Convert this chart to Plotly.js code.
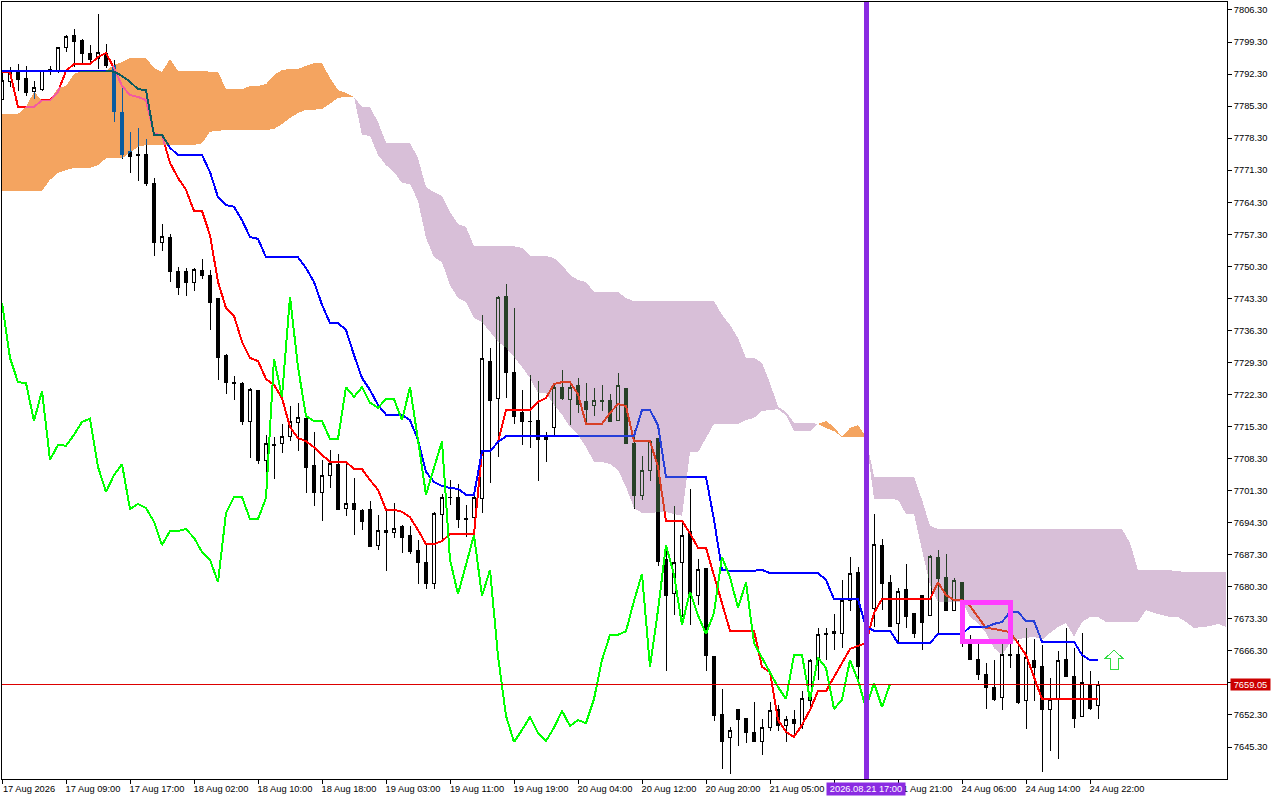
<!DOCTYPE html>
<html>
<head>
<meta charset="utf-8">
<script src="https://cdn.plot.ly/plotly-3.0.1.min.js"></script>
<style>
html, body { margin: 0; padding: 0; background: #fff; }
/* the terminal paints its cloud in xor mode, difference with the inverted colour gives the same */
.js-fill { mix-blend-mode: difference; }
.scatterlayer path, .shapelayer path, .boxlayer path { shape-rendering: crispEdges; }
</style>
</head>
<body>
<div id="chart" style="width:1280px;height:800px"></div>
<script>
const opens = [
	7786.8,7790.6,7793.0,7791.4,7788.4,7789.0,7793.2,7792.8,7798.0,7800.8,
	7799.7,7796.9,7795.6,7796.9,7794.1,7784.0,7775.3,7774.8,7774.8,7768.3,
	7755.6,7756.7,7749.1,7749.1,7746.7,7749.3,7748.4,7743.2,7730.9,7725.0,
	7724.8,7716.3,7723.1,7707.8,7711.3,7711.7,7713.2,7716.1,7717.0,7706.7,
	7700.8,7704.7,7707.1,7697.5,7698.4,7696.9,7697.1,7689.4,7692.1,7692.1,
	7693.4,7691.4,7688.3,7685.7,7681.1,7696.0,7699.9,7699.9,7695.3,7695.5,
	7699.5,7729.6,7721.5,7743.8,7727.2,7718.3,7716.5,7716.7,7713.0,7715.0,
	7723.9,7721.3,7724.2,7720.7,7719.8,7721.1,7720.9,7716.7,7723.7,7711.5,
	7700.2,7705.6,7712.6,7686.2,7678.9,7685.5,7692.3,7678.3,7684.2,7665.0,
	7652.5,7647.3,7653.6,7651.6,7648.4,7646.6,7649.5,7653.4,7650.1,7651.2,
	7650.3,7655.4,7664.3,7670.2,7670.0,7670.0,7677.2,7683.5,7676.5,7675.5,
	7689.4,7681.3,7672.2,7679.6,7674.4,7678.5,7674.1,7686.8,7682.4,7675.2,
	7681.3,7668.0,7664.5,7661.2,7658.2,7656.2,7665.6,7665.4,7655.4,7664.1,
	7662.8,7653.6,7655.6,7664.5,7660.8,7651.9,7658.8,7654.3
];
const highs = [
	7792.8,7793.8,7794.5,7794.1,7790.8,7793.0,7794.1,7798.0,7800.8,7802.1,
	7800.0,7798.6,7805.4,7798.9,7795.4,7789.5,7779.6,7780.5,7778.1,7769.6,
	7759.5,7757.4,7750.2,7750.0,7750.0,7751.9,7749.5,7743.4,7731.1,7726.3,
	7725.0,7723.7,7723.3,7713.5,7713.0,7715.9,7719.8,7720.5,7717.4,7714.1,
	7708.0,7710.2,7709.3,7707.6,7704.1,7697.3,7699.1,7696.0,7697.1,7698.6,
	7693.8,7693.6,7690.5,7689.4,7696.7,7700.6,7703.6,7702.8,7698.2,7700.4,
	7739.7,7732.5,7743.8,7746.4,7741.2,7723.3,7726.6,7725.2,7714.1,7724.8,
	7727.7,7725.0,7725.9,7724.8,7723.7,7724.4,7722.4,7727.0,7723.7,7714.6,
	7708.9,7712.4,7712.6,7689.4,7698.0,7694.2,7701.7,7686.4,7684.2,7665.2,
	7658.0,7649.7,7653.6,7651.6,7655.1,7651.4,7655.1,7654.5,7652.1,7653.4,
	7657.5,7664.5,7671.3,7671.3,7674.4,7681.8,7686.8,7684.6,7677.4,7696.2,
	7690.7,7682.9,7680.0,7685.3,7674.4,7678.5,7687.2,7688.3,7687.5,7682.2,
	7681.3,7669.8,7668.7,7663.6,7664.3,7668.0,7668.0,7668.7,7671.3,7668.9,
	7667.6,7660.4,7666.3,7671.3,7666.9,7670.2,7661.9,7659.7
];
const lows = [
	7786.6,7789.5,7788.6,7787.5,7786.8,7788.6,7792.1,7792.5,7797.1,7793.8,
	7794.7,7794.7,7793.4,7793.6,7781.8,7773.8,7770.7,7769.0,7767.9,7752.6,
	7753.7,7746.9,7744.0,7743.8,7744.9,7747.5,7736.4,7725.5,7722.4,7721.1,
	7715.6,7708.4,7707.1,7703.4,7703.9,7709.5,7712.1,7710.0,7700.8,7698.0,
	7694.7,7701.9,7697.1,7695.8,7691.6,7692.7,7689.0,7688.3,7683.8,7691.0,
	7687.7,7687.5,7680.9,7679.8,7679.8,7690.5,7698.2,7693.1,7691.2,7694.7,
	7696.4,7703.0,7708.7,7721.5,7715.9,7711.3,7710.6,7703.4,7707.6,7713.2,
	7721.1,7715.6,7718.3,7716.1,7717.6,7718.7,7716.5,7716.5,7711.5,7697.3,
	7699.3,7703.4,7684.9,7661.9,7674.1,7673.7,7672.0,7676.3,7661.9,7651.0,
	7640.5,7639.4,7645.5,7646.2,7646.4,7643.6,7648.8,7648.8,7646.4,7647.9,
	7649.2,7654.0,7659.9,7664.3,7666.5,7666.9,7675.0,7659.1,7673.0,7671.5,
	7675.2,7671.5,7668.0,7671.3,7669.1,7666.5,7674.1,7670.2,7675.0,7675.2,
	7667.1,7664.3,7659.9,7653.6,7655.4,7653.4,7662.6,7654.7,7649.2,7655.4,
	7639.9,7644.4,7642.7,7660.8,7649.5,7651.9,7653.4,7651.4
];
const closes = [
	7791.0,7793.0,7791.2,7788.2,7789.3,7793.0,7793.0,7798.0,7800.6,7799.5,
	7796.7,7795.4,7797.1,7794.1,7784.2,7774.8,7774.4,7774.6,7768.5,7755.6,
	7756.9,7749.1,7745.6,7746.7,7749.5,7748.2,7742.5,7730.3,7725.0,7724.8,
	7716.3,7723.3,7707.8,7711.5,7711.1,7713.2,7716.3,7717.2,7706.3,7700.8,
	7704.7,7707.3,7697.1,7698.6,7697.1,7694.5,7689.2,7692.5,7692.7,7693.1,
	7691.0,7688.1,7685.7,7681.1,7696.4,7699.9,7699.7,7694.9,7695.1,7699.7,
	7730.1,7721.1,7743.6,7727.2,7717.6,7716.3,7716.3,7712.4,7712.4,7723.9,
	7721.5,7723.9,7720.2,7719.1,7721.1,7720.7,7716.5,7724.2,7711.7,7700.2,
	7705.6,7712.1,7685.9,7678.5,7685.7,7691.6,7678.9,7684.0,7665.2,7652.1,
	7646.4,7649.0,7651.4,7648.4,7646.6,7649.5,7653.2,7649.9,7651.2,7650.5,
	7655.8,7664.3,7669.8,7669.8,7670.6,7677.2,7683.3,7662.8,7675.2,7689.6,
	7681.1,7671.7,7679.2,7673.7,7670.0,7672.4,7687.0,7682.0,7675.2,7681.6,
	7668.0,7664.5,7661.2,7658.2,7655.6,7665.4,7665.2,7655.1,7664.8,7662.6,
	7653.4,7655.6,7664.3,7660.8,7651.6,7659.3,7653.8,7659.05
];
const tenkan = [
	7792.8,7792.7,7785.1,7785.1,7785.1,7786.6,7786.6,7788.4,7793.0,7794.5,
	7794.5,7794.5,7796.0,7796.9,7793.6,7789.7,7787.7,7787.3,7786.6,7779.2,
	7779.0,7772.9,7769.6,7767.0,7762.4,7762.4,7757.1,7746.9,7741.2,7739.5,
	7733.8,7730.3,7729.6,7725.7,7724.4,7721.5,7715.2,7712.8,7712.1,7710.8,
	7709.1,7707.6,7707.6,7707.6,7706.0,7706.0,7703.6,7701.5,7697.1,7697.1,
	7696.7,7695.5,7692.7,7689.6,7689.6,7690.3,7691.8,7691.8,7691.8,7691.8,
	7709.9,7709.9,7711.9,7718.9,7718.9,7718.9,7718.9,7720.7,7721.5,7724.6,
	7725.0,7725.0,7722.4,7715.9,7715.9,7715.9,7718.3,7720.2,7719.8,7712.1,
	7712.1,7712.1,7706.5,7694.7,7694.7,7694.7,7692.0,7688.8,7688.8,7682.9,
	7677.0,7670.7,7670.7,7670.7,7670.7,7662.8,7661.7,7651.2,7648.6,7647.5,
	7650.1,7653.4,7657.5,7657.5,7660.6,7663.6,7666.7,7667.4,7668.0,7674.6,
	7677.6,7677.6,7677.6,7677.6,7677.6,7677.6,7677.6,7681.3,7678.5,7677.4,
	7677.4,7676.1,7673.7,7671.3,7671.1,7670.7,7670.4,7668.0,7665.4,7660.6,
	7655.8,7655.8,7655.8,7655.8,7655.8,7655.8,7655.8,7655.8
];
const kijun = [
	7793.0,7793.0,7793.0,7793.0,7793.0,7793.0,7793.0,7793.0,7793.0,7793.0,
	7793.0,7793.0,7793.0,7793.0,7792.8,7791.9,7790.6,7789.0,7788.8,7779.0,
	7779.0,7776.2,7774.6,7774.6,7774.6,7774.6,7770.9,7765.4,7763.7,7763.3,
	7760.4,7756.7,7756.3,7752.3,7752.3,7752.3,7752.3,7752.3,7749.9,7746.9,
	7741.9,7737.9,7737.9,7736.4,7730.9,7725.9,7723.3,7720.0,7717.9,7717.9,
	7717.9,7716.7,7712.4,7705.4,7703.2,7702.3,7701.9,7701.7,7700.4,7700.4,
	7709.9,7709.9,7711.9,7713.2,7713.2,7713.2,7713.2,7713.2,7713.2,7713.2,
	7713.2,7713.2,7713.2,7713.2,7713.2,7713.2,7713.2,7713.2,7713.2,7713.2,
	7718.9,7718.9,7715.6,7704.3,7704.3,7704.3,7704.3,7704.3,7704.3,7694.9,
	7684.0,7683.8,7683.8,7683.8,7683.8,7684.0,7683.3,7683.3,7683.3,7683.3,
	7683.3,7683.3,7683.3,7681.8,7677.6,7677.6,7677.6,7677.6,7671.5,7670.7,
	7670.7,7670.7,7668.0,7668.0,7668.0,7668.0,7668.0,7670.0,7670.0,7670.0,
	7670.0,7671.5,7671.5,7671.5,7672.2,7672.6,7674.8,7674.8,7672.8,7672.8,
	7668.3,7668.3,7668.3,7668.3,7668.3,7665.4,7664.3,7664.3
];
const chikou = [
	7742.3,7730.3,7725.0,7724.8,7716.5,7723.1,7708.0,7711.3,7711.1,7713.5,
	7716.3,7717.0,7706.5,7701.0,7704.7,7707.1,7697.3,7698.4,7697.5,7694.5,
	7689.4,7692.5,7692.5,7692.9,7691.0,7687.9,7686.2,7681.3,7696.4,7699.9,
	7699.9,7695.1,7695.1,7699.7,7730.1,7721.8,7743.6,7728.3,7717.6,7716.5,
	7716.5,7712.6,7712.6,7723.9,7721.8,7723.9,7720.5,7719.4,7721.3,7721.3,
	7716.7,7723.9,7712.4,7700.4,7706.3,7712.1,7686.2,7678.7,7685.1,7691.6,
	7678.3,7684.0,7665.2,7652.1,7646.4,7649.0,7651.9,7648.4,7646.6,7649.5,
	7653.2,7649.9,7651.2,7650.5,7655.8,7664.3,7669.8,7669.8,7670.6,7677.2,
	7683.1,7662.8,7675.2,7689.4,7682.9,7672.0,7679.2,7674.1,7670.0,7674.6,
	7686.8,7682.4,7675.7,7681.3,7668.0,7664.7,7661.5,7658.4,7655.8,7665.4,
	7665.4,7655.6,7664.8,7662.6,7653.6,7655.6,7664.3,7659.9,7653.8,7659.3,
	7654.0,7659.05
];
const senkouA = [
	7783.6,7783.6,7783.6,7785.1,7788.4,7786.6,7786.6,7789.3,7789.7,7792.3,
	7793.0,7793.0,7793.0,7793.0,7794.3,7794.9,7795.8,7795.8,7795.8,7793.6,
	7792.8,7795.6,7793.0,7793.0,7793.0,7793.0,7792.8,7792.8,7789.0,7789.0,
	7789.0,7789.7,7789.7,7790.1,7792.1,7793.2,7793.4,7793.4,7794.1,7794.7,
	7794.7,7791.4,7788.8,7788.2,7787.3,7779.0,7778.8,7774.6,7772.4,7770.9,
	7768.5,7768.3,7764.6,7756.5,7752.3,7751.2,7746.2,7743.4,7742.5,7739.0,
	7738.1,7736.0,7733.8,7732.5,7730.5,7728.3,7725.9,7722.6,7722.6,7720.0,
	7717.9,7715.2,7713.5,7710.8,7707.6,7707.6,7707.1,7705.8,7702.1,7697.5,
	7696.4,7696.4,7696.6,7696.6,7696.2,7695.8,7709.7,7709.7,7712.8,7715.9,
	7715.9,7715.9,7715.9,7716.7,7717.2,7718.7,7718.9,7719.1,7717.8,7714.3,
	7714.3,7714.3,7715.9,7716.5,7715.2,7713.0,7715.0,7715.6,7713.0,7699.5,
	7699.5,7699.5,7699.3,7696.2,7696.2,7688.3,7680.7,7677.0,7677.0,7677.0,
	7677.0,7673.7,7672.4,7670.2,7666.9,7665.4,7668.0,7668.9,7669.1,7669.4,
	7668.7,7670.2,7671.5,7672.4,7669.4,7672.6,7673.7,7673.7,7672.6,7672.6,
	7672.6,7672.6,7672.6,7675.2,7674.6,7674.1,7673.7,7673.7,7672.6,7671.3,
	7671.5,7671.7,7672.2,7671.5
];
const senkouB = [
	7766.8,7766.8,7766.8,7766.8,7766.8,7766.8,7769.2,7770.7,7771.3,7771.8,
	7771.8,7771.8,7772.4,7773.9,7773.9,7773.9,7775.1,7776.4,7776.8,7776.8,
	7776.8,7776.8,7776.8,7776.8,7776.8,7777.2,7779.7,7779.9,7780.1,7780.1,
	7780.1,7780.1,7780.1,7780.1,7780.3,7781.4,7782.7,7783.8,7784.5,7784.5,
	7784.7,7785.8,7787.1,7787.3,7787.3,7785.1,7785.1,7781.8,7777.3,7777.3,
	7777.3,7777.3,7773.9,7767.6,7766.5,7765.7,7762.2,7759.5,7758.9,7754.7,
	7754.7,7754.7,7754.7,7754.7,7754.7,7754.3,7752.6,7752.6,7752.6,7752.1,
	7750.6,7748.4,7747.3,7746.9,7744.7,7744.7,7744.7,7744.7,7743.4,7742.7,
	7742.7,7742.7,7742.7,7742.7,7742.7,7742.7,7742.7,7742.7,7742.7,7742.7,
	7739.7,7737.5,7734.6,7730.3,7730.3,7729.2,7724.8,7719.6,7718.5,7716.1,
	7716.1,7716.1,7715.9,7715.0,7714.3,7713.0,7713.0,7713.0,7713.0,7704.3,
	7704.3,7704.3,7704.3,7704.3,7704.3,7699.3,7693.6,7692.9,7692.9,7692.9,
	7692.9,7692.9,7692.9,7692.9,7692.9,7692.9,7692.9,7692.9,7692.9,7692.9,
	7692.9,7692.9,7692.9,7692.9,7692.9,7692.9,7692.9,7692.9,7692.9,7692.9,
	7692.9,7689.9,7683.9,7683.9,7683.9,7683.9,7683.9,7683.7,7683.5,7683.5,
	7683.5,7683.5,7683.5,7683.5
];
const tickBars = [0,8,16,24,32,40,48,56,64,72,80,88,96,104,112,120,128,136];
const tickLabels = [
	'17 Aug 2026','17 Aug 09:00','17 Aug 17:00','18 Aug 02:00','18 Aug 10:00','18 Aug 18:00',
	'19 Aug 03:00','19 Aug 11:00','19 Aug 19:00','20 Aug 04:00','20 Aug 12:00','20 Aug 20:00',
	'21 Aug 05:00','21 Aug 13:00','21 Aug 21:00','24 Aug 06:00','24 Aug 14:00','24 Aug 22:00'
];
const priceTicks = [
	7806.3,7799.3,7792.3,7785.3,7778.3,7771.3,7764.3,7757.3,7750.3,7743.3,7736.3,7729.3,
	7722.3,7715.3,7708.3,7701.3,7694.3,7687.3,7680.3,7673.3,7666.3,7659.3,7652.3,7645.3
];
const lastPrice = 7659.05;
const markBar = 108;
const markLabel = '2026.08.21 17:00';
const boxBars = [120.06, 126.06];
const boxPrices = [7676.9, 7668.35];
const arrowBar = 139;
const arrowPrice = 7664.4;
const barRange = [0, 153.125];
const priceRange = [7638.31, 7808.04];

const FONT = 'Liberation Sans';

function barsOf(arr) {
	return arr.map((_, i) => i);
}

function lineTrace(values, color) {
	return {
		x: barsOf(values),
		y: values,
		mode: 'lines',
		type: 'scatter',
		line: { color: color, width: 2 },
		hoverinfo: 'skip',
		showlegend: false
	};
}

// one closed polygon per run of the cloud, split where the two spans cross
function cloudTraces() {
	const traces = [];
	let start = 0;
	const sign = i => Math.sign(senkouA[i] - senkouB[i]);
	for (let i = 1; i < senkouA.length; i++) {
		const ended = i === senkouA.length - 1 || sign(i) === 0 || sign(i + 1) !== sign(i);
		if (!ended) continue;
		let s = 0;
		for (let k = start; k <= i; k++) if (sign(k) !== 0) s = sign(k);
		if (s !== 0) {
			const xs = [];
			const ys = [];
			for (let k = start; k <= i; k++) { xs.push(k); ys.push(senkouA[k]); }
			for (let k = i; k >= start; k--) { xs.push(k); ys.push(senkouB[k]); }
			traces.push({
				x: xs,
				y: ys,
				mode: 'none',
				type: 'scatter',
				fill: 'toself',
				fillcolor: s > 0 ? '#0B5B9F' : '#274027',
				cliponaxis: false,
				hoverinfo: 'skip',
				showlegend: false
			});
		}
		start = i;
	}
	return traces;
}

// white backdrop inside the plot group, the blend of the cloud needs something to work on
const backdrop = {
	type: 'bar',
	x: [(barRange[0] + barRange[1]) / 2],
	y: [priceRange[1] - priceRange[0]],
	base: [priceRange[0]],
	width: [barRange[1] - barRange[0]],
	marker: { color: '#ffffff', line: { width: 0 } },
	hoverinfo: 'skip',
	showlegend: false
};

const candles = {
	x: barsOf(opens),
	open: opens,
	high: highs,
	low: lows,
	close: closes,
	type: 'candlestick',
	whiskerwidth: 0,
	increasing: { line: { color: '#000000', width: 1 }, fillcolor: '#ffffff' },
	decreasing: { line: { color: '#000000', width: 1 }, fillcolor: '#000000' },
	hoverinfo: 'skip',
	showlegend: false
};

const data = [
	backdrop,
	candles,
	lineTrace(tenkan, '#FF0000'),
	lineTrace(kijun, '#0000FF'),
	lineTrace(chikou, '#00FF00')
].concat(cloudTraces());

const layout = {
	width: 1280,
	height: 800,
	margin: { l: 2, r: 53, t: 2, b: 21, pad: 0 },
	paper_bgcolor: '#ffffff',
	plot_bgcolor: '#ffffff',
	showlegend: false,
	dragmode: false,
	xaxis: {
		type: 'linear',
		range: barRange,
		rangeslider: { visible: false },
		tickmode: 'array',
		tickvals: tickBars,
		ticktext: tickLabels,
		ticks: 'outside',
		ticklen: 4,
		tickwidth: 1,
		tickcolor: '#000',
		ticklabelshift: 27,
		ticklabelstandoff: -3,
		tickangle: 0,
		tickfont: { family: FONT, size: 9.3, color: '#000' },
		showgrid: false,
		zeroline: false,
		showline: true,
		mirror: true,
		linecolor: '#000',
		linewidth: 1
	},
	yaxis: {
		side: 'right',
		range: priceRange,
		tickmode: 'array',
		tickvals: priceTicks,
		ticktext: priceTicks.map(v => v.toFixed(2)),
		ticks: 'outside',
		ticklen: 4,
		tickwidth: 1,
		tickcolor: '#000',
		tickfont: { family: FONT, size: 9.3, color: '#000' },
		showgrid: false,
		zeroline: false,
		showline: true,
		mirror: true,
		linecolor: '#000',
		linewidth: 1
	},
	shapes: [
		{ type: 'line', xref: 'paper', x0: 0, x1: 1, yref: 'y', y0: lastPrice, y1: lastPrice, line: { color: '#DD0000', width: 1 } },
		{ type: 'line', xref: 'x', x0: markBar, x1: markBar, yref: 'paper', y0: 0, y1: 1, line: { color: '#8A2BE2', width: 5 } },
		{ type: 'rect', xref: 'x', x0: boxBars[0], x1: boxBars[1], yref: 'y', y0: boxPrices[0], y1: boxPrices[1], line: { color: '#FF3DFF', width: 5 } },
		{
			type: 'path',
			xref: 'x',
			yref: 'y',
			xsizemode: 'pixel',
			ysizemode: 'pixel',
			xanchor: arrowBar,
			yanchor: arrowPrice,
			path: 'M0 9.5 L8.5 1.5 L4 1.5 L4 -9.5 L-4 -9.5 L-4 1.5 L-8.5 1.5 Z',
			fillcolor: '#ffffff',
			line: { color: '#33DD44', width: 1 }
		}
	],
	annotations: [
		{
			xref: 'paper', x: 1, xanchor: 'left', xshift: 3,
			yref: 'y', y: lastPrice, yanchor: 'middle',
			text: lastPrice.toFixed(2),
			showarrow: false,
			width: 39, height: 11,
			bgcolor: '#CC0000',
			borderpad: 0,
			font: { family: FONT, size: 9.3, color: '#fff' }
		},
		{
			xref: 'x', x: markBar, xanchor: 'center',
			yref: 'paper', y: 0, yanchor: 'middle', yshift: -10,
			text: markLabel,
			showarrow: false,
			width: 78, height: 12,
			bgcolor: '#8A2BE2',
			borderpad: 0,
			font: { family: FONT, size: 9.3, color: '#fff' }
		}
	]
};

Plotly.newPlot('chart', data, layout, { displayModeBar: false, staticPlot: true });
</script>
</body>
</html>
